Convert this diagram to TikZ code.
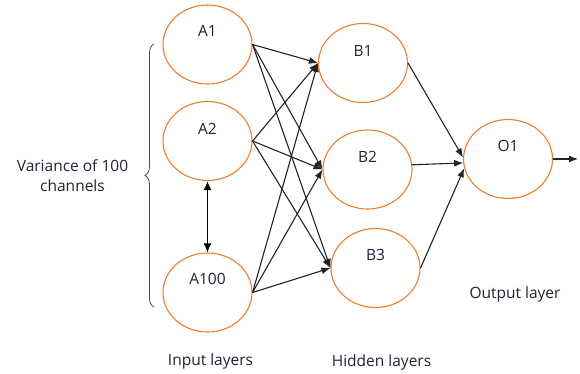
\documentclass[tikz,border=0pt]{standalone}
\usepackage{fontspec}
\setmainfont{Open Sans}
\usetikzlibrary{shapes.geometric,arrows.meta,decorations.pathreplacing}
\definecolor{nodeorange}{RGB}{237,125,49}
\definecolor{inktext}{RGB}{30,36,52}
\definecolor{wire}{RGB}{35,35,35}
\begin{document}
\begin{tikzpicture}[x=1pt,y=-1pt,
  neuron/.style={ellipse,draw=nodeorange,line width=1.1pt,minimum width=89pt,minimum height=79pt,inner sep=0pt},
  lbl/.style={text=inktext,font=\fontsize{15.5}{18}\selectfont,inner sep=0pt},
  conn/.style={draw=wire,line width=1.1pt,-{Latex[length=9pt,width=7pt]}},
  every label/.style={lbl}]
\useasboundingbox (0,0) rectangle (580,373);
% input layer
\node[neuron,label={[yshift=14pt]center:A1}] (A1) at (207.5,44.5) {};
\node[neuron,label={[yshift=12pt]center:A2}] (A2) at (207.5,141) {};
\node[neuron,label={[yshift=14pt]center:A100}] (A100) at (207.5,292.5) {};
% hidden layer
\node[neuron,label={[yshift=12pt]center:B1}] (B1) at (363,63) {};
\node[neuron,label={[yshift=12.5pt]center:B2}] (B2) at (367.5,169.5) {};
\node[neuron,label={[yshift=13pt]center:B3}] (B3) at (375.5,268) {};
% output layer
\node[neuron,label={[yshift=13pt]center:O1}] (O1) at (508,159) {};
\coordinate (out) at (578,159);
% fully connected input -> hidden
\foreach \a in {A1,A2,A100}{
  \foreach \b in {B1,B2,B3}{
    \draw[conn] (\a.east) -- (\b.west);
  }
}
% hidden -> output
\draw[conn] (B1.east) -- (O1.178);
\draw[conn] (B2.6) -- (O1.185);
\draw[conn] (B3.east) -- (O1.192);
\draw[conn] (O1.east) -- (out);
% link between the listed input channels
\draw[draw=black,line width=1.5pt,{Latex[length=9pt,width=8pt]}-{Latex[length=9pt,width=8pt]}] (A2.south) -- (A100.north);
% brace grouping the input channels
\coordinate (brtop) at (154,44);
\coordinate (brbot) at (154,307);
\draw[draw=black!70,line width=0.8pt,decorate,decoration={brace,amplitude=9pt}] (brbot) -- (brtop);
% captions
\node[lbl,align=center] (var) at (72.5,175.5) {Variance of 100\\[2pt]channels};
\node[lbl] (inl) at (210.5,361) {Input layers};
\node[lbl] (hid) at (381.5,362) {Hidden layers};
\node[lbl] (outl) at (515,294) {Output layer};
\end{tikzpicture}
\end{document}
